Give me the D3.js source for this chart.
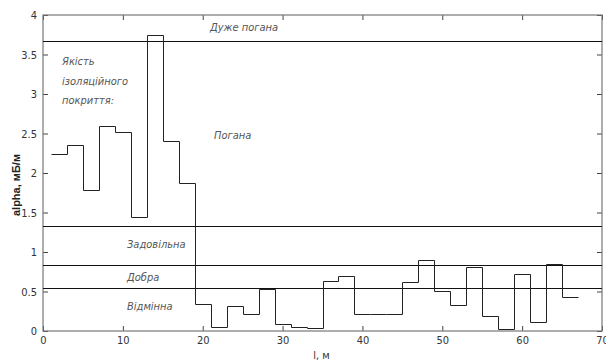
<!DOCTYPE html>
<html>
<head>
<meta charset="utf-8">
<script src="https://cdn.jsdelivr.net/npm/d3@7"></script>
<style>
	body { margin: 0; background: #fff; }
	svg { display: block; }
	.tick text { font-family: "Liberation Sans Narrow", "DejaVu Sans Condensed", "Liberation Sans", sans-serif; font-size: 11px; fill: #333; }
	.tick line { stroke: #444; }
	.zone { font-family: "DejaVu Sans Condensed", "Liberation Sans Narrow", sans-serif; font-style: italic; font-size: 11px; fill: #555; }
</style>
</head>
<body>
<svg id="plot" width="606" height="362"></svg>
<script>

// segment start positions along the pipe, m
const SEG_X = [1, 3, 5, 7, 9, 11, 13, 15, 17, 19, 21, 23, 25, 27, 29, 31, 33,
	35, 37, 39, 41, 43, 45, 47, 49, 51, 53, 55, 57, 59, 61, 63, 65, 67];
// attenuation per segment, mB/m
const ALPHA = [2.24, 2.35, 1.79, 2.60, 2.52, 1.44, 3.75, 2.40, 1.87, 0.34, 0.055, 0.32,
	0.22, 0.535, 0.09, 0.055, 0.04, 0.63, 0.69, 0.22, 0.22, 0.22, 0.62, 0.90, 0.51,
	0.33, 0.81, 0.19, 0.02, 0.72, 0.12, 0.85, 0.43];

const LIMITS = [3.67, 1.33, 0.84, 0.54];
const X_TICKS = [0, 10, 20, 30, 40, 50, 60, 70];
const Y_TICKS = [0, 0.5, 1, 1.5, 2, 2.5, 3, 3.5, 4];

const svg = d3.select('#plot');
const m = { left: 43, right: 602, top: 15, bottom: 331 };

const x = d3.scaleLinear().domain([0, 70]).range([m.left, m.right]);
const y = d3.scaleLinear().domain([0, 4]).range([m.bottom, m.top]);

// inward ticks on all four sides
svg.append('g')
	.attr('transform', `translate(0,${m.bottom})`)
	.call(d3.axisBottom(x).tickValues(X_TICKS).tickSizeInner(-5).tickSizeOuter(0).tickPadding(5))
	.call(g => g.select('.domain').remove());

svg.append('g')
	.attr('transform', `translate(${m.left},0)`)
	.call(d3.axisLeft(y).tickValues(Y_TICKS).tickSizeInner(-5).tickSizeOuter(0).tickPadding(6)
		.tickFormat(d => String(d)))
	.call(g => g.select('.domain').remove());

svg.append('g')
	.attr('transform', `translate(0,${m.top})`)
	.call(d3.axisTop(x).tickValues(X_TICKS).tickSizeInner(-5).tickSizeOuter(0).tickFormat(''))
	.call(g => g.select('.domain').remove());

svg.append('g')
	.attr('transform', `translate(${m.right},0)`)
	.call(d3.axisRight(y).tickValues(Y_TICKS).tickSizeInner(-5).tickSizeOuter(0).tickFormat(''))
	.call(g => g.select('.domain').remove());

svg.append('rect')
	.attr('x', m.left).attr('y', m.top)
	.attr('width', m.right - m.left).attr('height', m.bottom - m.top)
	.attr('fill', 'none').attr('stroke', '#777').attr('stroke-width', 1.2);

// quality limits
svg.append('g')
	.selectAll('line')
	.data(LIMITS)
	.enter()
	.append('line')
		.attr('x1', m.left).attr('x2', m.right)
		.attr('y1', d => Math.round(y(d)) + 0.5)
		.attr('y2', d => Math.round(y(d)) + 0.5)
		.attr('stroke', '#111');

// step profile
const pts = ALPHA.map((v, i) => [SEG_X[i], v]);
pts.push([SEG_X[SEG_X.length - 1], ALPHA[ALPHA.length - 1]]);

svg.append('path')
	.datum(pts)
	.attr('fill', 'none')
	.attr('stroke', '#222')
	.attr('stroke-width', 1)
	.attr('d', d3.line()
		.x(d => Math.round(x(d[0])) + 0.5)
		.y(d => Math.round(y(d[1])) + 0.5)
		.curve(d3.curveStepAfter));

// zone labels
const zone_labels = [
	{ t: 'Дуже погана', x: 210, y: 31 },
	{ t: 'Погана', x: 214, y: 139 },
	{ t: 'Задовільна', x: 127, y: 248 },
	{ t: 'Добра', x: 127, y: 281 },
	{ t: 'Відмінна', x: 127, y: 310 },
	{ t: 'Якість', x: 62, y: 65 },
	{ t: 'ізоляційного', x: 62, y: 85 },
	{ t: 'покриття:', x: 62, y: 104 }
];
svg.append('g')
	.selectAll('text')
	.data(zone_labels)
	.enter()
	.append('text')
		.classed('zone', true)
		.attr('x', d => d.x)
		.attr('y', d => d.y)
		.text(d => d.t);

// axis titles
svg.append('text')
	.attr('x', x(35) - 1).attr('y', 359)
	.attr('text-anchor', 'middle')
	.style('font-family', '"Liberation Sans Narrow", "DejaVu Sans Condensed", sans-serif')
	.style('font-size', '11px').style('fill', '#333')
	.text('l, м');

svg.append('text')
	.attr('transform', 'translate(20,185) rotate(-90)')
	.attr('text-anchor', 'middle')
	.style('font-family', '"Liberation Sans", sans-serif')
	.style('font-size', '11px').style('font-weight', 'bold').style('fill', '#222')
	.text('alpha, мБ/м');

</script>
</body>
</html>
